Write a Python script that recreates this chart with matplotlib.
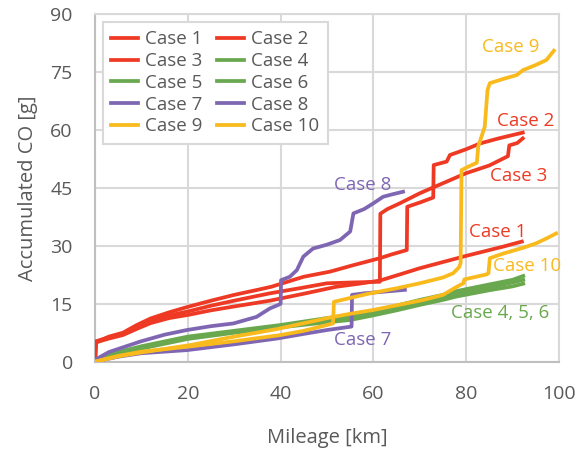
import numpy as np
import matplotlib
matplotlib.use('Agg')
import matplotlib.pyplot as plt

plt.rcParams['font.family'] = ['Open Sans', 'DejaVu Sans']

# colours of the groups
red = '#EE3A24'
green = '#6AA84F'
purple = '#7F66B3'
yellow = '#F8BA1C'
grey_txt = '#595959'

# case 1-3 (red)
x1 = [0, 0.2, 3, 6, 9, 12, 16, 20, 25, 30, 37.7, 45, 52, 57, 61.4, 66, 70, 75, 80, 85, 88, 92]
y1 = [0, 5.0, 6.0, 6.9, 8.5, 10.0, 11.3, 12.1, 13.3, 14.3, 15.8, 17.6, 19.4, 20.2, 21.0, 22.7, 24.2, 25.8, 27.4, 28.9, 29.8, 31.1]

x2 = [0, 0.2, 3, 6, 9, 12, 16, 20, 25, 30, 35, 38, 45, 50.6, 55.7, 61.4, 64, 67.2, 67.3, 70, 72.9, 73.0,
      75.8, 76.5, 80, 83, 87, 92.2]
y2 = [0, 5.0, 6.5, 7.5, 9.5, 11.2, 12.8, 14.2, 15.8, 17.3, 18.6, 19.4, 22.0, 23.3, 25.0, 26.8, 27.8, 28.9, 40.1,
      41.2, 42.5, 50.9, 51.8, 53.5, 55.0, 56.5, 57.8, 59.3]

x3 = [0, 0.2, 3, 6, 9, 12, 16, 20, 25, 30, 37.7, 44, 50, 55, 61.4, 61.5, 63, 65.7, 70, 75, 80, 85, 89, 89.3, 91, 92.2]
y3 = [0, 5.3, 6.3, 7.2, 9.0, 10.5, 12.0, 13.0, 14.5, 15.8, 17.7, 19.0, 20.3, 20.5, 20.7, 38.3, 39.5, 41.0, 43.6,
      46.2, 48.8, 50.8, 53.2, 56.0, 56.6, 57.8]

# case 4-6 (green)
x456 = [0, 5, 10, 20, 30, 40, 50, 55, 60, 65, 70, 75, 78, 85, 90, 92.3]
y4 = [0.5, 2.5, 4.0, 6.5, 8.0, 9.5, 11.3, 12.0, 13.2, 14.5, 16.0, 17.3, 18.3, 20.0, 21.2, 22.2]
y5 = [0.3, 2.3, 3.7, 6.2, 7.7, 9.2, 10.8, 11.5, 12.7, 14.0, 15.4, 16.8, 17.6, 19.2, 20.5, 21.2]
y6 = [0.2, 2.0, 3.4, 5.9, 7.5, 8.9, 10.2, 10.8, 12.0, 13.3, 14.7, 16.0, 16.9, 18.5, 19.5, 20.2]

# case 7-8 (purple)
x7 = [0, 5, 10, 19.8, 30, 39.2, 45, 50, 55.3, 55.4, 58, 62, 66.8]
y7 = [0, 1.3, 2.2, 3.0, 4.5, 6.0, 7.2, 8.2, 9.1, 17.3, 17.7, 18.1, 18.6]

x8 = [0, 3, 9.7, 15, 19.8, 25, 29.8, 34.8, 37.7, 39.5, 40, 40.1, 42, 43.5, 44.9, 47, 50, 52.8, 55, 55.7,
      58, 60, 62.1, 64, 66.4]
y8 = [0.5, 2.5, 5.2, 7.0, 8.2, 9.2, 9.9, 11.6, 13.8, 14.7, 15.0, 21.1, 22.0, 23.7, 27.2, 29.3, 30.3, 31.5,
      33.7, 38.4, 39.5, 41.0, 42.7, 43.3, 44.0]

# case 9-10 (yellow)
x9 = [0, 5, 10, 20, 30, 40, 45, 51.3, 51.5, 55, 59.3, 65, 70, 75, 77.2, 78.5, 78.8, 79.0, 80.5, 82.3, 82.6,
      84.0, 84.6, 85.1, 88, 90.9, 92.3, 95, 97.3, 98.9]
y9 = [0, 1.5, 2.6, 3.9, 5.3, 6.9, 8.0, 9.9, 15.5, 16.5, 17.7, 19.0, 20.3, 21.8, 22.9, 24.5, 25.5, 49.6, 50.5,
      51.5, 55.7, 60.8, 70.3, 72.1, 73.2, 74.2, 75.5, 76.8, 78.1, 80.5]

x10 = [0, 5, 10, 20.5, 30, 39, 50.9, 55, 60, 65, 70.8, 75, 78, 79.4, 79.6, 84.4, 84.8, 85.1, 88, 92.3, 95,
       97.3, 99.4]
y10 = [0, 1.4, 2.4, 4.3, 6.5, 8.4, 11.5, 12.4, 13.4, 14.6, 16.0, 17.3, 19.4, 20.3, 21.3, 22.6, 22.9, 26.8,
       28.0, 29.5, 30.6, 31.9, 33.2]

series = [('Case 1', x1, y1, red), ('Case 2', x2, y2, red), ('Case 3', x3, y3, red),
          ('Case 4', x456, y4, green), ('Case 5', x456, y5, green), ('Case 6', x456, y6, green),
          ('Case 7', x7, y7, purple), ('Case 8', x8, y8, purple),
          ('Case 9', x9, y9, yellow), ('Case 10', x10, y10, yellow)]

# labels next to the line ends
notes = [('Case 9', 89.7, 81.4, yellow), ('Case 2', 92.9, 62.3, red), ('Case 3', 91.2, 48.1, red),
         ('Case 8', 57.8, 45.7, purple), ('Case 1', 86.7, 33.6, red), ('Case 10', 93.1, 24.9, yellow),
         ('Case 4, 5, 6', 87.3, 12.7, green), ('Case 7', 57.7, 5.6, purple)]

fig = plt.figure(figsize=(5.88, 4.49), dpi=100)
ax = fig.add_axes([0.1616, 0.1944, 0.789, 0.7744])

lines = []
for name, xs, ys, c in series:
    ln, = ax.plot(xs, ys, color=c, lw=2.7, label=name, solid_joinstyle='round', zorder=3)
    lines.append(ln)

for txt, tx, ty, c in notes:
    ax.text(tx, ty, txt, color=c, fontsize=13.5, ha='center', va='center', zorder=4)

ax.set_xlim(0, 100)
ax.set_ylim(0, 90)
ax.set_xticks(np.arange(0, 101, 20))
ax.set_yticks(np.arange(0, 91, 15))
ax.grid(True, color='#D9D9D9', lw=1.5)
ax.set_axisbelow(True)
for s in ax.spines.values():
    s.set_color('#D9D9D9')
    s.set_linewidth(1.5)
ax.spines['left'].set_color('#BFBFBF')
ax.spines['bottom'].set_color('#BFBFBF')
ax.tick_params(length=0, labelsize=14, colors=grey_txt)
ax.tick_params(axis='y', pad=16)
ax.tick_params(axis='x', pad=17)

ax.set_xlabel('Mileage [km]', fontsize=14.5, color=grey_txt, labelpad=18)
ax.set_ylabel('Accumulated CO [g]', fontsize=14.5, color=grey_txt, labelpad=9)

# legend is filled row by row in the original
order = [0, 2, 4, 6, 8, 1, 3, 5, 7, 9]
leg = ax.legend(handles=[lines[i] for i in order], ncol=2, loc='upper left',
                bbox_to_anchor=(0.017, 0.977), borderaxespad=0,
                fontsize=13.5, frameon=True, fancybox=False, edgecolor='#D9D9D9',
                handlelength=1.4, handletextpad=0.4, columnspacing=0.8, labelspacing=0.2,
                borderpad=0.45, labelcolor=grey_txt)
leg.get_frame().set_linewidth(1.5)
leg.get_frame().set_alpha(1)

fig.savefig('out.png', dpi=100)
